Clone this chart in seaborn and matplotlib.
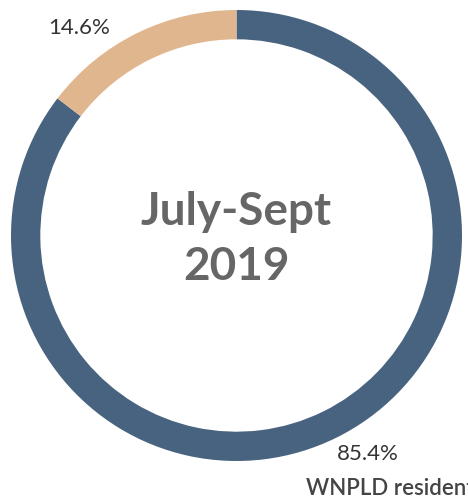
import matplotlib
matplotlib.use("Agg")
import matplotlib.pyplot as plt
import seaborn as sns

# Share of visits by residency, July-Sept 2019
categories = ["WNPLD resident", "Non-resident"]
shares = [85.4, 14.6]
colors = ["#47637f", "#e0b68e"]
center_lines = ["July-Sept", "2019"]

sns.set_theme(style="white")
plt.rcParams["font.family"] = ["Lato", "DejaVu Sans"]

W, H = 468, 504
fig = plt.figure(figsize=(W / 100, H / 100), dpi=100)
cx, cy, r = 236.5, 235.5, 225.5
ax = fig.add_axes([(cx - r) / W, (H - cy - r) / H, 2 * r / W, 2 * r / H])

wedges, _ = ax.pie(
    shares,
    colors=colors,
    startangle=90,
    counterclock=False,
    radius=1.0,
    wedgeprops=dict(width=0.13, linewidth=0),
)
ax.set_xlim(-1, 1)
ax.set_ylim(-1, 1)
ax.set_aspect("equal")
ax.axis("off")

# Centre caption, one baseline per line
for line, y in zip(center_lines, [0.047, -0.197]):
    ax.text(0, y, line, ha="center", va="baseline", fontsize=33,
            fontweight="bold", color="#666666")

# Percentage labels just outside the ring
ax.text(-0.696, 0.922, f"{shares[1]:.1f}%", ha="center", va="center",
        fontsize=16, color="#333333")
ax.text(0.581, -0.969, f"{shares[0]:.1f}%", ha="center", va="center",
        fontsize=16, color="#333333")

# Category label (runs off the right edge)
ax.text(0.308, -1.124, categories[0], ha="left", va="center",
        fontsize=16, fontweight="semibold", color="#444444")

fig.savefig("out.png", dpi=100)
